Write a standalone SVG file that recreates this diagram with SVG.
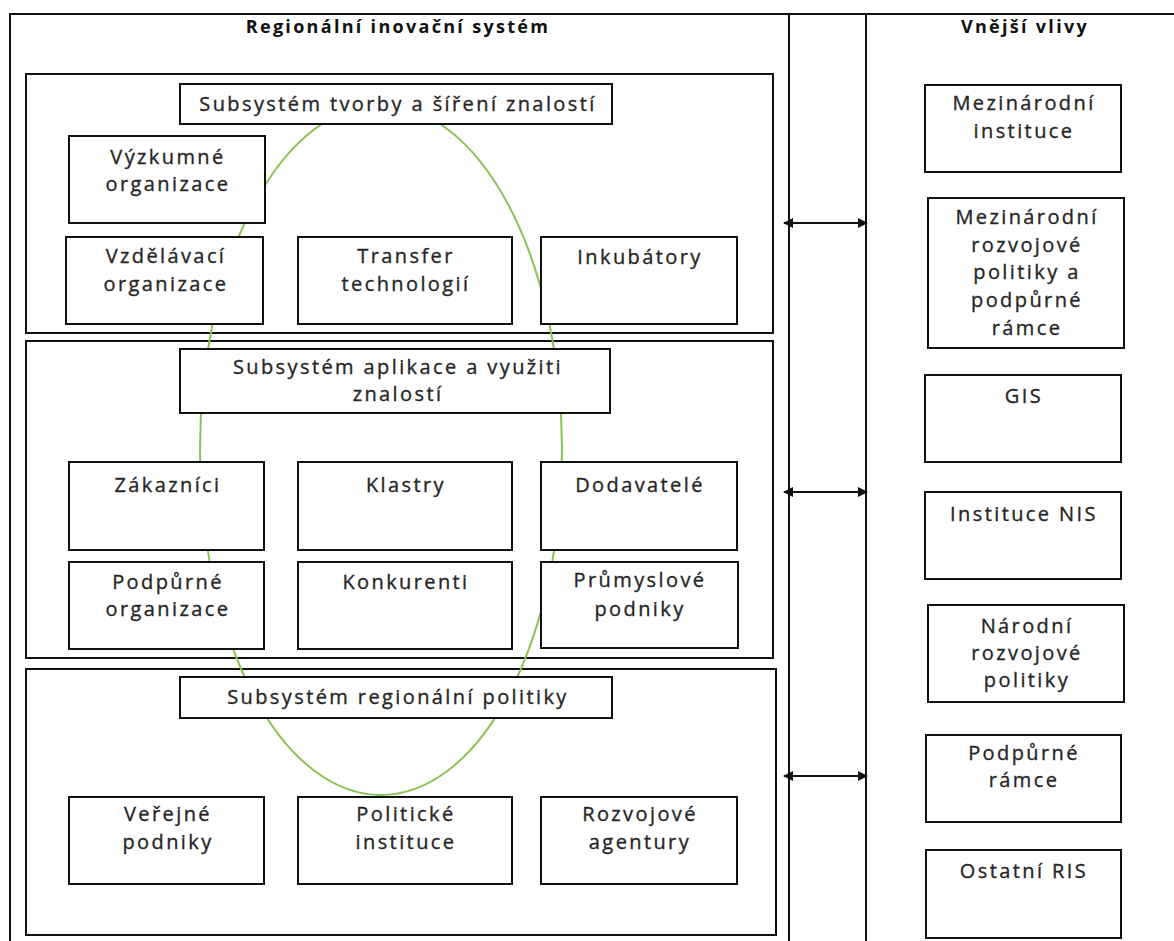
<svg xmlns="http://www.w3.org/2000/svg" width="1174" height="941" viewBox="0 0 1174 941">
<style>
.frame{fill:none;stroke:#111;stroke-width:2}
.box{fill:#fff;stroke:#111;stroke-width:2}
.t{font-family:"Open Sans","Liberation Sans",sans-serif;font-size:20px;letter-spacing:2.4px;fill:#262626;stroke:#262626;stroke-width:0.35px;text-anchor:middle}
.h{font-family:"Open Sans","Liberation Sans",sans-serif;font-size:18px;font-weight:bold;letter-spacing:2.3px;fill:#111;text-anchor:middle}
.ell{fill:none;stroke:#8dc156;stroke-width:2}
.conn{stroke:#111;stroke-width:2;fill:none;marker-start:url(#ah);marker-end:url(#ah)}
</style>
<defs>
<marker id="ah" viewBox="0 0 10 10" refX="9" refY="5" markerWidth="6" markerHeight="5" orient="auto-start-reverse" markerUnits="strokeWidth">
<path d="M0,0 L10,5 L0,10 z" fill="#111"/>
</marker>
</defs>
<rect width="1174" height="941" fill="#fff"/>
<g id="frame">
<path class="frame" d="M10,941 V14 H1174 M789,14 V941 M866,14 V941"/>
<text class="h" x="398" y="33">Regionální inovační systém</text>
<text class="h" x="1025" y="33">Vnější vlivy</text>
</g>
<g id="subsystem-boxes">
<rect id="sub1" class="box" x="26" y="74" width="747" height="259"/>
<rect id="sub2" class="box" x="26" y="341" width="747" height="317"/>
<rect id="sub3" class="box" x="26" y="669" width="750" height="266"/>
</g>
<ellipse id="ellipse" class="ell" cx="381" cy="450" rx="181" ry="345"/>
<g id="n-header1"><rect class="box" x="180" y="84" width="432" height="40"/><text class="t" x="398" y="111">Subsystém tvorby a šíření znalostí</text></g>
<g id="n-vyzkumne"><rect class="box" x="69" y="136" width="196" height="87"/><text class="t" x="168" y="164">Výzkumné</text><text class="t" x="168" y="191">organizace</text></g>
<g id="n-vzdelavaci"><rect class="box" x="66" y="237" width="197" height="87"/><text class="t" x="166" y="263">Vzdělávací</text><text class="t" x="166" y="291">organizace</text></g>
<g id="n-transfer"><rect class="box" x="298" y="237" width="214" height="87"/><text class="t" x="406" y="263">Transfer</text><text class="t" x="406" y="291">technologií</text></g>
<g id="n-inkubatory"><rect class="box" x="541" y="237" width="196" height="87"/><text class="t" x="640" y="264">Inkubátory</text></g>
<g id="n-header2"><rect class="box" x="180" y="349" width="430" height="64"/><text class="t" x="398" y="374">Subsystém aplikace a využiti</text><text class="t" x="398" y="401">znalostí</text></g>
<g id="n-zakaznici"><rect class="box" x="69" y="462" width="195" height="88"/><text class="t" x="168" y="492">Zákazníci</text></g>
<g id="n-klastry"><rect class="box" x="298" y="462" width="214" height="88"/><text class="t" x="406" y="492">Klastry</text></g>
<g id="n-dodavatele"><rect class="box" x="541" y="462" width="196" height="88"/><text class="t" x="640" y="492">Dodavatelé</text></g>
<g id="n-podpurne"><rect class="box" x="69" y="562" width="195" height="87"/><text class="t" x="168" y="589">Podpůrné</text><text class="t" x="168" y="616">organizace</text></g>
<g id="n-konkurenti"><rect class="box" x="298" y="562" width="214" height="87"/><text class="t" x="406" y="589">Konkurenti</text></g>
<g id="n-prumyslove"><rect class="box" x="541" y="562" width="197" height="86"/><text class="t" x="640" y="587">Průmyslové</text><text class="t" x="640" y="616">podniky</text></g>
<g id="n-header3"><rect class="box" x="180" y="677" width="432" height="41"/><text class="t" x="398" y="704">Subsystém regionální politiky</text></g>
<g id="n-verejne"><rect class="box" x="69" y="797" width="195" height="87"/><text class="t" x="168" y="821">Veřejné</text><text class="t" x="168" y="849">podniky</text></g>
<g id="n-politicke"><rect class="box" x="298" y="797" width="214" height="87"/><text class="t" x="406" y="821">Politické</text><text class="t" x="406" y="849">instituce</text></g>
<g id="n-rozvojove"><rect class="box" x="541" y="797" width="196" height="87"/><text class="t" x="640" y="821">Rozvojové</text><text class="t" x="640" y="849">agentury</text></g>
<g id="n-mez-instituce"><rect class="box" x="925" y="85" width="196" height="87"/><text class="t" x="1024" y="110">Mezinárodní</text><text class="t" x="1024" y="138">instituce</text></g>
<g id="n-mez-politiky"><rect class="box" x="928" y="198" width="196" height="150"/><text class="t" x="1027" y="224">Mezinárodní</text><text class="t" x="1027" y="252">rozvojové</text><text class="t" x="1027" y="279">politiky a</text><text class="t" x="1027" y="307">podpůrné</text><text class="t" x="1027" y="335">rámce</text></g>
<g id="n-gis"><rect class="box" x="925" y="375" width="196" height="87"/><text class="t" x="1024" y="403">GIS</text></g>
<g id="n-nis"><rect class="box" x="925" y="492" width="196" height="87"/><text class="t" x="1024" y="521">Instituce NIS</text></g>
<g id="n-narodni"><rect class="box" x="928" y="605" width="196" height="97"/><text class="t" x="1027" y="633">Národní</text><text class="t" x="1027" y="660">rozvojové</text><text class="t" x="1027" y="687">politiky</text></g>
<g id="n-podpurne-ramce"><rect class="box" x="926" y="735" width="195" height="87"/><text class="t" x="1024" y="760">Podpůrné</text><text class="t" x="1024" y="787">rámce</text></g>
<g id="n-ostatni"><rect class="box" x="926" y="850" width="195" height="88"/><text class="t" x="1024" y="878">Ostatní RIS</text></g>
<g id="connectors">
<line class="conn" x1="784" y1="223" x2="867" y2="223"/>
<line class="conn" x1="784" y1="492" x2="867" y2="492"/>
<line class="conn" x1="784" y1="776" x2="867" y2="776"/>
</g>
</svg>
